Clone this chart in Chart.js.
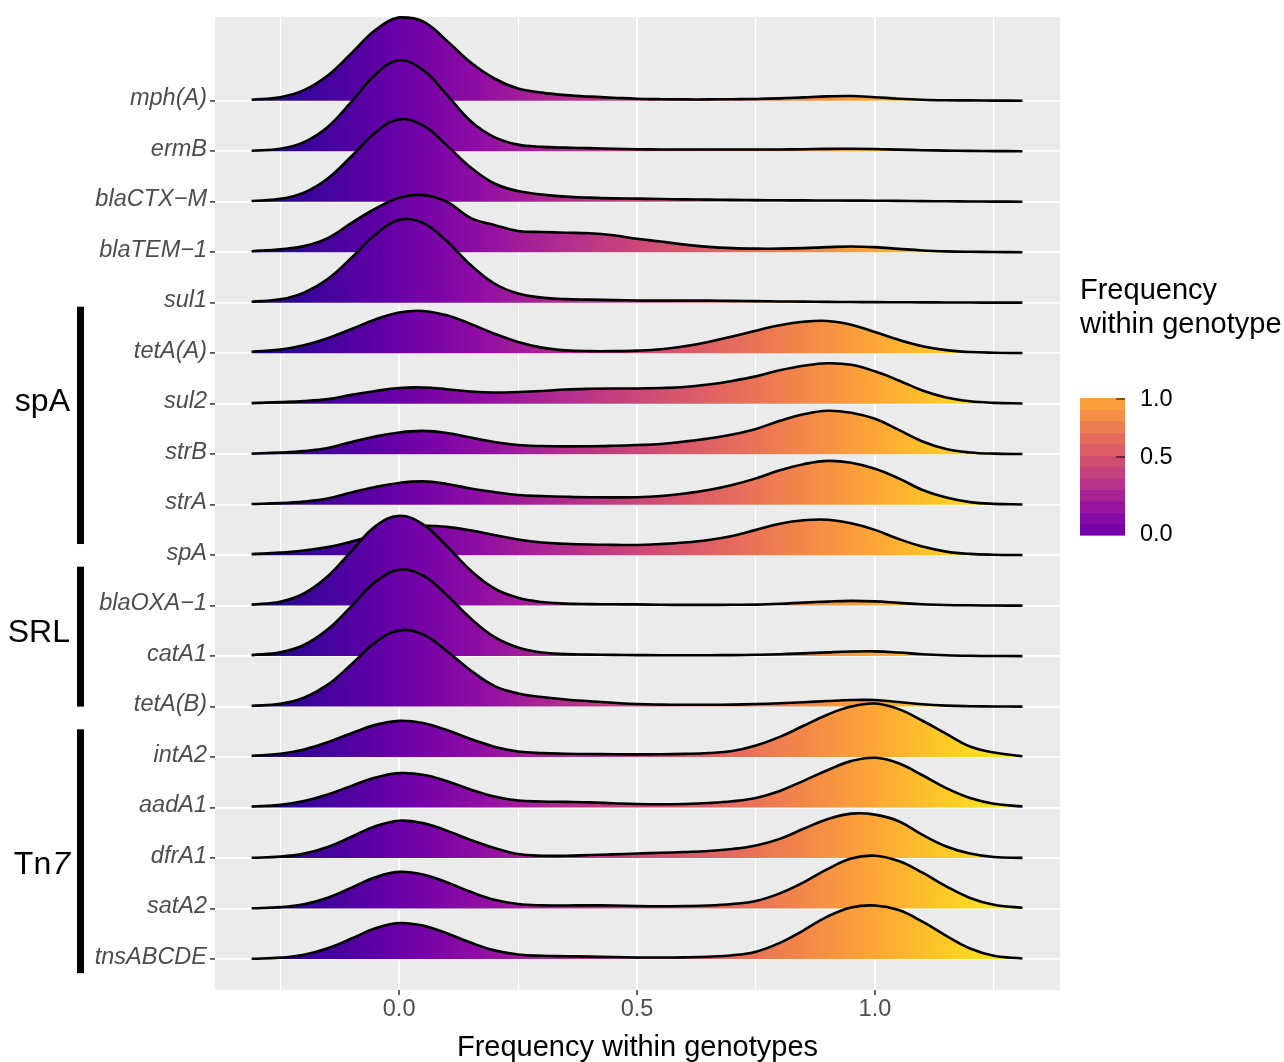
<!DOCTYPE html>
<html>
<head>
<meta charset="utf-8">
<title>Frequency within genotypes</title>
<script src="https://cdn.jsdelivr.net/npm/chart.js@4.4.1/dist/chart.umd.min.js"></script>
<style>
    html, body { margin: 0; padding: 0; background: #ffffff; }
    #wrap { width: 1284px; height: 1062px; }
</style>
</head>
<body>
<div id="wrap"><canvas id="ridgeChart" width="1284" height="1062"></canvas></div>
<script>
// genes, top row first
const genes = ['mph(A)', 'ermB', 'blaCTX\u2212M', 'blaTEM\u22121', 'sul1', 'tetA(A)', 'sul2', 'strB', 'strA', 'spA',
    'blaOXA\u22121', 'catA1', 'tetA(B)', 'intA2', 'aadA1', 'dfrA1', 'satA2', 'tnsABCDE'];

// x positions where ridge heights were read
const xGrid = [-0.31, -0.25, -0.2, -0.15, -0.1, -0.05, 0, 0.05, 0.1, 0.15, 0.2, 0.25, 0.3, 0.35, 0.4, 0.45, 0.5,
    0.55, 0.6, 0.65, 0.7, 0.75, 0.8, 0.85, 0.9, 0.95, 1, 1.05, 1.1, 1.15, 1.2, 1.25, 1.31];

// ridge heights (1 = one row)
const mphA = [0.02, 0.07, 0.21, 0.50, 0.94, 1.40, 1.65, 1.57, 1.19, 0.76, 0.44, 0.24, 0.16, 0.11, 0.08, 0.06, 0.04, 0.03, 0.026, 0.026, 0.03, 0.034, 0.046, 0.066, 0.086, 0.094, 0.07, 0.04, 0.02, 0.01, 0.006, 0.002, 0];
const ermB = [0.01, 0.05, 0.18, 0.48, 0.98, 1.52, 1.80, 1.61, 1.12, 0.60, 0.28, 0.13, 0.086, 0.07, 0.06, 0.05, 0.04, 0.034, 0.034, 0.034, 0.034, 0.034, 0.034, 0.04, 0.046, 0.048, 0.044, 0.032, 0.02, 0.012, 0.006, 0.002, 0];
const blaCTXM = [0.014, 0.056, 0.18, 0.46, 0.90, 1.37, 1.63, 1.51, 1.12, 0.68, 0.36, 0.21, 0.14, 0.10, 0.08, 0.066, 0.06, 0.052, 0.046, 0.04, 0.036, 0.032, 0.028, 0.026, 0.024, 0.022, 0.02, 0.016, 0.012, 0.008, 0.004, 0.002, 0];
const blaTEM1 = [0.018, 0.058, 0.12, 0.28, 0.58, 0.86, 1.08, 1.13, 1.0, 0.68, 0.54, 0.42, 0.40, 0.386, 0.374, 0.334, 0.266, 0.21, 0.15, 0.106, 0.08, 0.07, 0.07, 0.08, 0.10, 0.114, 0.10, 0.066, 0.034, 0.016, 0.008, 0.004, 0];
const sul1 = [0.018, 0.066, 0.20, 0.47, 0.89, 1.35, 1.64, 1.58, 1.22, 0.75, 0.38, 0.18, 0.10, 0.07, 0.06, 0.05, 0.044, 0.04, 0.04, 0.04, 0.036, 0.03, 0.024, 0.02, 0.016, 0.012, 0.01, 0.008, 0.006, 0.004, 0.002, 0.001, 0];
const tetAA = [0.028, 0.072, 0.158, 0.296, 0.478, 0.668, 0.806, 0.836, 0.75, 0.58, 0.386, 0.222, 0.11, 0.056, 0.04, 0.04, 0.05, 0.076, 0.136, 0.222, 0.33, 0.446, 0.552, 0.622, 0.638, 0.564, 0.42, 0.264, 0.138, 0.06, 0.022, 0.008, 0.002];
const sul2 = [0.01, 0.03, 0.05, 0.09, 0.174, 0.25, 0.31, 0.32, 0.286, 0.24, 0.22, 0.23, 0.25, 0.28, 0.294, 0.30, 0.30, 0.31, 0.33, 0.38, 0.45, 0.54, 0.66, 0.75, 0.80, 0.77, 0.64, 0.46, 0.26, 0.12, 0.046, 0.016, 0.004];
const strB = [0.01, 0.03, 0.06, 0.12, 0.24, 0.35, 0.43, 0.46, 0.42, 0.33, 0.24, 0.18, 0.16, 0.154, 0.156, 0.166, 0.18, 0.20, 0.25, 0.31, 0.39, 0.50, 0.66, 0.79, 0.86, 0.82, 0.70, 0.48, 0.25, 0.10, 0.034, 0.01, 0.002];
const strA = [0.014, 0.03, 0.06, 0.12, 0.24, 0.35, 0.43, 0.46, 0.41, 0.32, 0.25, 0.19, 0.17, 0.156, 0.146, 0.144, 0.146, 0.17, 0.22, 0.29, 0.39, 0.52, 0.68, 0.80, 0.866, 0.83, 0.71, 0.52, 0.29, 0.14, 0.05, 0.016, 0.004];
const spA = [0.02, 0.05, 0.09, 0.16, 0.27, 0.40, 0.52, 0.58, 0.56, 0.49, 0.40, 0.31, 0.25, 0.224, 0.21, 0.204, 0.20, 0.22, 0.25, 0.30, 0.38, 0.50, 0.62, 0.69, 0.70, 0.63, 0.50, 0.32, 0.17, 0.07, 0.024, 0.008, 0.002];
const blaOXA1 = [0.02, 0.078, 0.24, 0.58, 1.08, 1.57, 1.78, 1.61, 1.18, 0.70, 0.34, 0.154, 0.07, 0.04, 0.03, 0.026, 0.024, 0.016, 0.014, 0.014, 0.016, 0.02, 0.036, 0.06, 0.08, 0.094, 0.084, 0.054, 0.026, 0.012, 0.006, 0.002, 0];
const catA1 = [0.02, 0.074, 0.22, 0.53, 0.99, 1.47, 1.71, 1.60, 1.21, 0.75, 0.38, 0.17, 0.07, 0.04, 0.03, 0.024, 0.02, 0.018, 0.018, 0.018, 0.02, 0.026, 0.036, 0.054, 0.074, 0.09, 0.094, 0.07, 0.036, 0.016, 0.006, 0.002, 0];
const tetAB = [0.014, 0.056, 0.176, 0.434, 0.84, 1.27, 1.51, 1.43, 1.10, 0.72, 0.41, 0.26, 0.19, 0.14, 0.106, 0.076, 0.05, 0.04, 0.036, 0.036, 0.04, 0.05, 0.066, 0.086, 0.11, 0.13, 0.13, 0.09, 0.046, 0.02, 0.008, 0.002, 0];
const intA2 = [0.024, 0.066, 0.152, 0.294, 0.474, 0.638, 0.718, 0.676, 0.536, 0.36, 0.206, 0.11, 0.078, 0.066, 0.06, 0.056, 0.054, 0.056, 0.064, 0.08, 0.12, 0.23, 0.40, 0.62, 0.84, 1.0, 1.06, 0.95, 0.72, 0.46, 0.21, 0.09, 0.016];
const aadA1 = [0.02, 0.054, 0.13, 0.26, 0.43, 0.594, 0.682, 0.652, 0.526, 0.36, 0.22, 0.14, 0.12, 0.112, 0.104, 0.086, 0.07, 0.066, 0.072, 0.09, 0.124, 0.19, 0.33, 0.53, 0.74, 0.92, 0.986, 0.878, 0.64, 0.384, 0.188, 0.076, 0.024];
const dfrA1 = [0.006, 0.028, 0.088, 0.22, 0.422, 0.632, 0.74, 0.692, 0.544, 0.36, 0.20, 0.08, 0.046, 0.046, 0.06, 0.074, 0.09, 0.104, 0.12, 0.14, 0.18, 0.25, 0.38, 0.58, 0.77, 0.88, 0.86, 0.73, 0.46, 0.23, 0.09, 0.02, 0.004];
const satA2 = [0.006, 0.028, 0.086, 0.216, 0.414, 0.62, 0.726, 0.674, 0.52, 0.332, 0.174, 0.09, 0.064, 0.062, 0.064, 0.06, 0.05, 0.046, 0.05, 0.06, 0.09, 0.15, 0.30, 0.52, 0.78, 0.99, 1.046, 0.94, 0.71, 0.44, 0.21, 0.074, 0.016];
const tnsABCDE = [0.006, 0.028, 0.084, 0.212, 0.406, 0.61, 0.714, 0.662, 0.51, 0.326, 0.172, 0.09, 0.064, 0.056, 0.048, 0.04, 0.032, 0.03, 0.034, 0.046, 0.076, 0.146, 0.32, 0.57, 0.84, 1.02, 1.06, 0.97, 0.74, 0.46, 0.21, 0.066, 0.012];

const ridges = [mphA, ermB, blaCTXM, blaTEM1, sul1, tetAA, sul2, strB, strA, spA,
    blaOXA1, catA1, tetAB, intA2, aadA1, dfrA1, satA2, tnsABCDE];

const xTicks = [-0.25, 0, 0.25, 0.5, 0.75, 1, 1.25];
const xMajor = [0, 0.5, 1];
const legendTicks = ['0.0', '0.5', '1.0'];
const groupNames = ['spA', 'SRL', 'Tn7'];

// plasma palette
const plasma = ['#0d0887', '#41049d', '#6a00a8', '#8f0da4', '#b12a90', '#cc4778',
    '#e16462', '#f2844b', '#fca636', '#fcce25', '#f0f921'];

const FONT = "'Liberation Sans', Arial, Helvetica, sans-serif";
Chart.defaults.font.family = FONT;

function hexToRgb(h) {
    return [parseInt(h.slice(1, 3), 16), parseInt(h.slice(3, 5), 16), parseInt(h.slice(5, 7), 16)];
}

function plasmaAt(t) {
    const pos = Math.min(Math.max(t, 0), 1) * (plasma.length - 1);
    const i = Math.min(Math.floor(pos), plasma.length - 2);
    const f = pos - i;
    const a = hexToRgb(plasma[i]);
    const b = hexToRgb(plasma[i + 1]);
    const c = a.map((v, k) => Math.round(v + (b[k] - v) * f));
    return `rgb(${c[0]}, ${c[1]}, ${c[2]})`;
}

// fill colour follows x: x = 0 -> plasma 0.2, x = 1 -> plasma 0.8
function ridgeFill(context) {
    const chart = context.chart;
    const xScale = chart.scales.x;
    if (!chart.chartArea || !xScale) return plasma[2];
    const x0 = xScale.getPixelForValue(-1 / 3);
    const x1 = xScale.getPixelForValue(4 / 3);
    const g = chart.ctx.createLinearGradient(x0, 0, x1, 0);
    plasma.forEach((c, i) => g.addColorStop(i / (plasma.length - 1), c));
    return g;
}

// bottom row first so the lower ridges are painted over the upper ones
const datasets = [];
for (let i = genes.length - 1; i >= 0; i--) {
    const row = genes.length - i;
    datasets.push({
        label: genes[i],
        data: xGrid.map((x, j) => ({ x: x, y: row + ridges[i][j] })),
        fill: { value: row },
        backgroundColor: ridgeFill,
        borderColor: '#000000',
        borderWidth: 2.6,
        borderJoinStyle: 'round',
        pointRadius: 0,
        pointHoverRadius: 0,
        tension: 0.4,
        clip: 6
    });
}

const panelBackground = {
    id: 'panelBackground',
    beforeDraw(chart) {
        const { ctx, chartArea } = chart;
        ctx.save();
        ctx.fillStyle = '#ebebeb';
        ctx.fillRect(chartArea.left, chartArea.top, chartArea.right - chartArea.left, chartArea.bottom - chartArea.top);
        ctx.restore();
    }
};

// black bars and labels grouping the genes on the left
const geneGroups = {
    id: 'geneGroups',
    afterDraw(chart) {
        const { ctx } = chart;
        const y = chart.scales.y;
        const spans = [[9.22, 13.92], [6.0, 8.77], [0.72, 5.55]];
        const labelAt = [12.03, 7.46, 2.86];
        ctx.save();
        ctx.fillStyle = '#000000';
        ctx.textBaseline = 'middle';
        groupNames.forEach((name, i) => {
            const top = y.getPixelForValue(spans[i][1]);
            const bottom = y.getPixelForValue(spans[i][0]);
            ctx.fillRect(77, top, 7, bottom - top);
            const ly = y.getPixelForValue(labelAt[i]);
            ctx.textAlign = 'right';
            if (name === 'Tn7') {
                ctx.font = 'italic 32px ' + FONT;
                const w7 = ctx.measureText('7').width;
                ctx.fillText('7', 70, ly);
                ctx.font = '32px ' + FONT;
                ctx.fillText('Tn', 70 - w7 - 1, ly);
            } else {
                ctx.font = '32px ' + FONT;
                ctx.fillText(name, 70, ly);
            }
        });
        ctx.restore();
    }
};

// colour bar legend
const colourLegend = {
    id: 'colourLegend',
    afterDraw(chart) {
        const { ctx } = chart;
        const left = 1080, width = 45, top = 398, bottom = 535;
        const bands = 12;
        ctx.save();
        ctx.fillStyle = '#000000';
        ctx.font = '29px ' + FONT;
        ctx.textAlign = 'left';
        ctx.textBaseline = 'middle';
        ctx.fillText('Frequency', 1080, 291);
        ctx.fillText('within genotype', 1080, 325);

        const h = (bottom - top) / bands;
        for (let b = 0; b < bands; b++) {
            ctx.fillStyle = plasmaAt(0.2 + 0.6 * (b + 0.5) / bands);
            ctx.fillRect(left, bottom - (b + 1) * h, width, h + 0.6);
        }

        const tickY = [534, 457, 399];
        ctx.strokeStyle = '#000000';
        ctx.lineWidth = 1;
        [1, 2].forEach(i => {
            ctx.beginPath();
            ctx.moveTo(left + width - 9, tickY[i]);
            ctx.lineTo(left + width, tickY[i]);
            ctx.stroke();
        });
        ctx.fillStyle = '#000000';
        ctx.font = '23.5px ' + FONT;
        legendTicks.forEach((t, i) => ctx.fillText(t, 1140, tickY[i] + 1));
        ctx.restore();
    }
};

window.addEventListener('DOMContentLoaded', () => {
    const ctx = document.getElementById('ridgeChart').getContext('2d');
    new Chart(ctx, {
        type: 'line',
        data: { datasets: datasets },
        options: {
            responsive: false,
            devicePixelRatio: 1,
            animation: false,
            events: [],
            layout: { padding: { left: 0, top: 15, right: 224, bottom: 0 } },
            plugins: {
                legend: { display: false },
                tooltip: { enabled: false }
            },
            scales: {
                x: {
                    type: 'linear',
                    min: -0.387,
                    max: 1.389,
                    afterBuildTicks: scale => { scale.ticks = xTicks.map(v => ({ value: v })); },
                    afterFit: scale => { scale.height = 72; },
                    border: { display: false },
                    grid: {
                        color: '#ffffff',
                        lineWidth: c => xMajor.includes(c.tick.value) ? 2 : 1.1,
                        tickColor: c => xMajor.includes(c.tick.value) ? '#333333' : 'rgba(0,0,0,0)',
                        tickLength: 5,
                        tickWidth: 1.5
                    },
                    ticks: {
                        autoSkip: false,
                        maxRotation: 0,
                        padding: 0,
                        color: '#4d4d4d',
                        font: { size: 23.5 },
                        callback: v => xMajor.includes(v) ? v.toFixed(1) : ''
                    },
                    title: {
                        display: true,
                        text: 'Frequency within genotypes',
                        color: '#000000',
                        font: { size: 29 },
                        padding: { top: 0, bottom: -3 }
                    }
                },
                y: {
                    type: 'linear',
                    min: 0.387,
                    max: 19.656,
                    afterBuildTicks: scale => {
                        scale.ticks = genes.map((g, i) => ({ value: i + 1 }));
                    },
                    afterFit: scale => { scale.width = 215; },
                    border: { display: false },
                    grid: {
                        color: '#ffffff',
                        lineWidth: 1.8,
                        tickColor: '#333333',
                        tickLength: 5,
                        tickWidth: 1.5
                    },
                    ticks: {
                        autoSkip: false,
                        padding: 3,
                        labelOffset: -2,
                        color: '#4d4d4d',
                        font: { size: 23.5, style: 'italic' },
                        callback: v => genes[genes.length - v]
                    }
                }
            }
        },
        plugins: [panelBackground, geneGroups, colourLegend]
    });
});
</script>
</body>
</html>
